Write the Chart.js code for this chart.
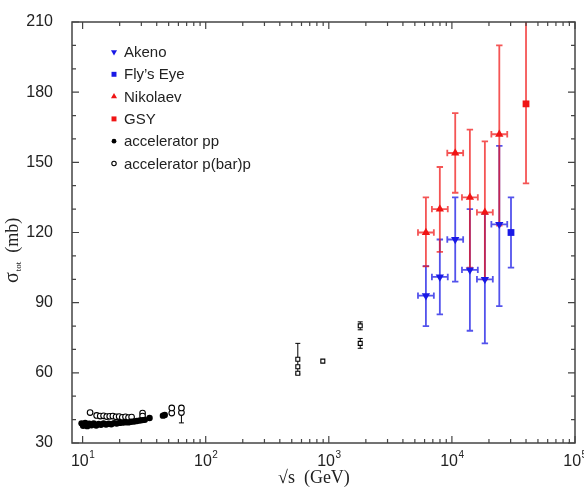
<!DOCTYPE html>
<html>
<head>
<meta charset="utf-8">
<script src="https://cdn.jsdelivr.net/npm/chart.js@4.4.0/dist/chart.umd.min.js"></script>
<style>
  html, body { margin: 0; padding: 0; background: #fff; }
</style>
</head>
<body>
<canvas id="sigmaChart" width="584" height="490"></canvas>
<script>
// cosmic ray points (sqrt(s) in GeV, sigma_tot in mb)
const cosmicX = [6150, 7980, 10640, 14000, 18530, 24270];
const akenoY  = [93, 101, 117, 104, 100, 123.5];
const akenoLo = [80, 85, 99, 78, 72.6, 88.5];
const akenoHi = [105.6, 117, 135, 130, 128, 157];

const nikolaevY  = [120, 130, 154, 135, 128.6, 162];
const nikolaevLo = [105.5, 111.7, 137, 105, 100, 123];
const nikolaevHi = [135, 148, 171, 164, 159, 200];

const flysEyeX  = [30200];
const flysEyeY  = [120];
const flysEyeLo = [105];
const flysEyeHi = [135];

const gsyX  = [40000];
const gsyY  = [175];
const gsyLo = [141];
const gsyHi = [212];

const energyErr = 1.16; // relative energy uncertainty of cosmic points

// accelerator data
const ppX = [9.8, 10.1, 10.5, 10.9, 11.3, 11.8, 12.3, 12.9, 13.5, 14.1, 14.8, 15.5, 16.3, 17.1, 18.0, 18.9, 19.9, 21.0, 22.2, 23.5, 24.8, 26.2, 27.6, 29.2, 30.6, 32.0, 35.0, 44.9, 46.5];
const ppY = [38.4, 37.4, 38.6, 37.2, 38.2, 37.6, 38.4, 37.5, 38.1, 37.8, 38.4, 37.9, 38.2, 38.0, 38.5, 38.3, 38.6, 38.7, 38.9, 38.8, 39.1, 39.2, 39.4, 39.6, 39.8, 39.9, 40.7, 41.7, 42.0];

const pbarX  = [11.5, 13.0, 13.9, 14.8, 15.7, 16.6, 17.6, 18.7, 19.8, 21.0, 22.3, 23.6, 25.0, 30.7, 30.7, 53, 53, 63.5, 63.5, 560, 560, 560, 894, 1800, 1800];
const pbarY  = [43.0, 41.8, 41.5, 41.6, 41.3, 41.4, 41.5, 41.2, 41.3, 41.0, 41.2, 40.9, 41.1, 42.8, 41.5, 42.8, 45.0, 43.0, 45.0, 65.8, 62.6, 59.8, 65.0, 80.1, 72.6];
const pbarLo = [null, null, null, null, null, null, null, null, null, null, null, null, null, null, null, null, null, 38.6, null, 59.5, null, null, null, 78.4, 70.5];
const pbarHi = [null, null, null, null, null, null, null, null, null, null, null, null, null, null, null, null, null, 45.6, null, 72.6, null, null, null, 81.8, 74.7];

const legendLabels = ['Akeno', 'Fly\u2019s Eye', 'Nikolaev', 'GSY', 'accelerator pp', 'accelerator p(bar)p'];
const yTicks = [30, 60, 90, 120, 150, 180, 210];

const RED = 'rgb(240,20,20)';
const BLUE = 'rgb(25,25,230)';

function points(xs, ys, lo, hi, xerr) {
    return xs.map(function(x, i) {
        return {
            x: x, y: ys[i],
            yLo: lo ? lo[i] : null, yHi: hi ? hi[i] : null,
            xLo: xerr ? x / xerr : null, xHi: xerr ? x * xerr : null
        };
    });
}

const datasets = [
    { label: legendLabels[0], data: points(cosmicX, akenoY, akenoLo, akenoHi, energyErr),
      pointStyle: 'triangle', rotation: 180, radius: 4.8, backgroundColor: BLUE, borderColor: BLUE, borderWidth: 0,
      errColor: 'rgba(25,25,230,0.75)', legendRadius: 3.5 },
    { label: legendLabels[1], data: points(flysEyeX, flysEyeY, flysEyeLo, flysEyeHi, null),
      pointStyle: 'rect', radius: 4.8, backgroundColor: BLUE, borderColor: BLUE, borderWidth: 0,
      errColor: 'rgba(25,25,230,0.75)', legendRadius: 3.5 },
    { label: legendLabels[2], data: points(cosmicX, nikolaevY, nikolaevLo, nikolaevHi, energyErr),
      pointStyle: 'triangle', rotation: 0, radius: 4.8, backgroundColor: RED, borderColor: RED, borderWidth: 0,
      errColor: 'rgba(240,20,20,0.72)', legendRadius: 3.5 },
    { label: legendLabels[3], data: points(gsyX, gsyY, gsyLo, gsyHi, null),
      pointStyle: 'rect', radius: 4.8, backgroundColor: RED, borderColor: RED, borderWidth: 0,
      errColor: 'rgba(240,20,20,0.72)', legendRadius: 3.5 },
    { label: legendLabels[4], data: points(ppX, ppY, null, null, null),
      pointStyle: 'circle', radius: 3.2, backgroundColor: '#000', borderColor: '#000', borderWidth: 0,
      errColor: '#000', legendRadius: 2.4 },
    { label: legendLabels[5], data: points(pbarX, pbarY, pbarLo, pbarHi, null),
      pointStyle: function(c) { return c.raw && c.raw.x > 300 ? 'rect' : 'circle'; },
      radius: 2.8, backgroundColor: '#fff', borderColor: '#000', borderWidth: 1.1,
      errColor: '#000', legendRadius: 2.2 }
];

datasets.forEach(function(d) {
    d.pointRadius = d.radius;
    d.pointRotation = d.rotation || 0;
    d.showLine = false;
});

const errorBars = {
    id: 'errorBars',
    beforeDatasetsDraw(chart) {
        const ctx = chart.ctx;
        const xs = chart.scales.x, ys = chart.scales.y;
        const a = chart.chartArea;
        ctx.save();
        ctx.beginPath();
        ctx.rect(a.left, a.top, a.right - a.left, a.bottom - a.top);
        ctx.clip();
        chart.data.datasets.forEach(function(ds) {
            const black = ds.errColor === '#000';
            ctx.strokeStyle = ds.errColor;
            ctx.lineWidth = black ? 1 : 1.8;
            const cap = black ? 2.5 : 3.2;
            ds.data.forEach(function(p) {
                const px = xs.getPixelForValue(p.x);
                const py = ys.getPixelForValue(p.y);
                ctx.beginPath();
                if (p.yLo != null) {
                    const t = ys.getPixelForValue(p.yHi), b = ys.getPixelForValue(p.yLo);
                    ctx.moveTo(px, t); ctx.lineTo(px, b);
                    ctx.moveTo(px - cap, t); ctx.lineTo(px + cap, t);
                    ctx.moveTo(px - cap, b); ctx.lineTo(px + cap, b);
                }
                if (p.xLo != null) {
                    const l = xs.getPixelForValue(p.xLo), r = xs.getPixelForValue(p.xHi);
                    ctx.moveTo(l, py); ctx.lineTo(r, py);
                    ctx.moveTo(l, py - cap); ctx.lineTo(l, py + cap);
                    ctx.moveTo(r, py - cap); ctx.lineTo(r, py + cap);
                }
                ctx.stroke();
            });
        });
        ctx.restore();
    }
};

const frameAndText = {
    id: 'frameAndText',
    afterDraw(chart) {
        const ctx = chart.ctx;
        const a = chart.chartArea;
        const xs = chart.scales.x, ys = chart.scales.y;
        ctx.save();
        ctx.strokeStyle = '#444';
        ctx.lineWidth = 1.5;
        ctx.strokeRect(a.left, a.top, a.right - a.left, a.bottom - a.top);

        // y ticks, both sides, pointing in
        ctx.lineWidth = 1.2;
        ctx.beginPath();
        for (let v = 30; v <= 210; v += 10) {
            const y = ys.getPixelForValue(v);
            const len = v % 30 === 0 ? 7 : 4;
            ctx.moveTo(a.left, y); ctx.lineTo(a.left + len, y);
            ctx.moveTo(a.right, y); ctx.lineTo(a.right - len, y);
        }
        // x ticks, top and bottom
        for (let d = 1; d <= 5; d++) {
            for (let m = 1; m <= 9; m++) {
                const v = m * Math.pow(10, d);
                if (v < xs.min || v > xs.max) continue;
                const x = xs.getPixelForValue(v);
                const len = m === 1 ? 7 : 4;
                ctx.moveTo(x, a.bottom); ctx.lineTo(x, a.bottom - len);
                ctx.moveTo(x, a.top); ctx.lineTo(x, a.top + len);
            }
        }
        ctx.stroke();

        // x tick labels 10^n
        ctx.fillStyle = '#222';
        ctx.textBaseline = 'alphabetic';
        for (let d = 1; d <= 5; d++) {
            const x = xs.getPixelForValue(Math.pow(10, d));
            ctx.font = '16px "Liberation Sans", Arial, sans-serif';
            const w1 = ctx.measureText('10').width;
            ctx.font = '10px "Liberation Sans", Arial, sans-serif';
            const w2 = ctx.measureText(String(d)).width;
            const x0 = x - (w1 + w2) / 2;
            ctx.font = '16px "Liberation Sans", Arial, sans-serif';
            ctx.textAlign = 'left';
            ctx.fillText('10', x0, 466);
            ctx.font = '10px "Liberation Sans", Arial, sans-serif';
            ctx.fillText(String(d), x0 + w1 + 0.5, 458);
        }

        // x axis title
        ctx.font = '18px "Liberation Serif", "Times New Roman", serif';
        ctx.textAlign = 'left';
        ctx.fillText('\u221As  (GeV)', 278, 483);

        // y axis title
        ctx.save();
        ctx.translate(18, 283);
        ctx.rotate(-Math.PI / 2);
        ctx.font = '20px "Liberation Serif", "Times New Roman", serif';
        ctx.fillText('\u03C3', 0, 0);
        let w = ctx.measureText('\u03C3').width;
        ctx.font = '9px "Liberation Serif", "Times New Roman", serif';
        ctx.fillText('tot', w + 1, 3);
        w += ctx.measureText('tot').width + 1;
        ctx.font = '18px "Liberation Serif", "Times New Roman", serif';
        ctx.fillText('  (mb)', w, 0);
        ctx.restore();

        // legend
        const lx = 114, ly0 = 52, step = 22.3;
        chart.data.datasets.forEach(function(ds, i) {
            const y = ly0 + i * step;
            ctx.fillStyle = ds.backgroundColor;
            ctx.strokeStyle = ds.borderColor;
            ctx.lineWidth = ds.borderWidth;
            Chart.helpers.drawPoint(ctx, {
                pointStyle: i === 5 ? 'circle' : ds.pointStyle,
                radius: ds.legendRadius,
                rotation: ds.rotation || 0,
                borderWidth: ds.borderWidth
            }, lx, y);
            ctx.fillStyle = '#222';
            ctx.font = '15px "Liberation Sans", Arial, sans-serif';
            ctx.textAlign = 'left';
            ctx.textBaseline = 'middle';
            ctx.fillText(ds.label, lx + 10, y + 1);
        });
        ctx.restore();
    }
};

new Chart(document.getElementById('sigmaChart').getContext('2d'), {
    type: 'scatter',
    data: { datasets: datasets },
    options: {
        responsive: false,
        animation: false,
        devicePixelRatio: 1,
        layout: { padding: { top: 22, right: 9, left: 0, bottom: 0 } },
        plugins: { legend: { display: false }, tooltip: { enabled: false } },
        scales: {
            x: {
                type: 'logarithmic',
                min: 8.2,
                max: 100000,
                grid: { display: false },
                border: { display: false },
                ticks: { display: false },
                afterFit: function(s) { s.height = 47; }
            },
            y: {
                min: 30,
                max: 210,
                grid: { display: false },
                border: { display: false },
                afterBuildTicks: function(s) { s.ticks = yTicks.map(function(v) { return { value: v }; }); },
                ticks: {
                    color: '#222',
                    padding: 11,
                    font: { size: 16, family: '"Liberation Sans", Arial, sans-serif' }
                },
                afterFit: function(s) { s.width = 72; }
            }
        }
    },
    plugins: [errorBars, frameAndText]
});
</script>
</body>
</html>
